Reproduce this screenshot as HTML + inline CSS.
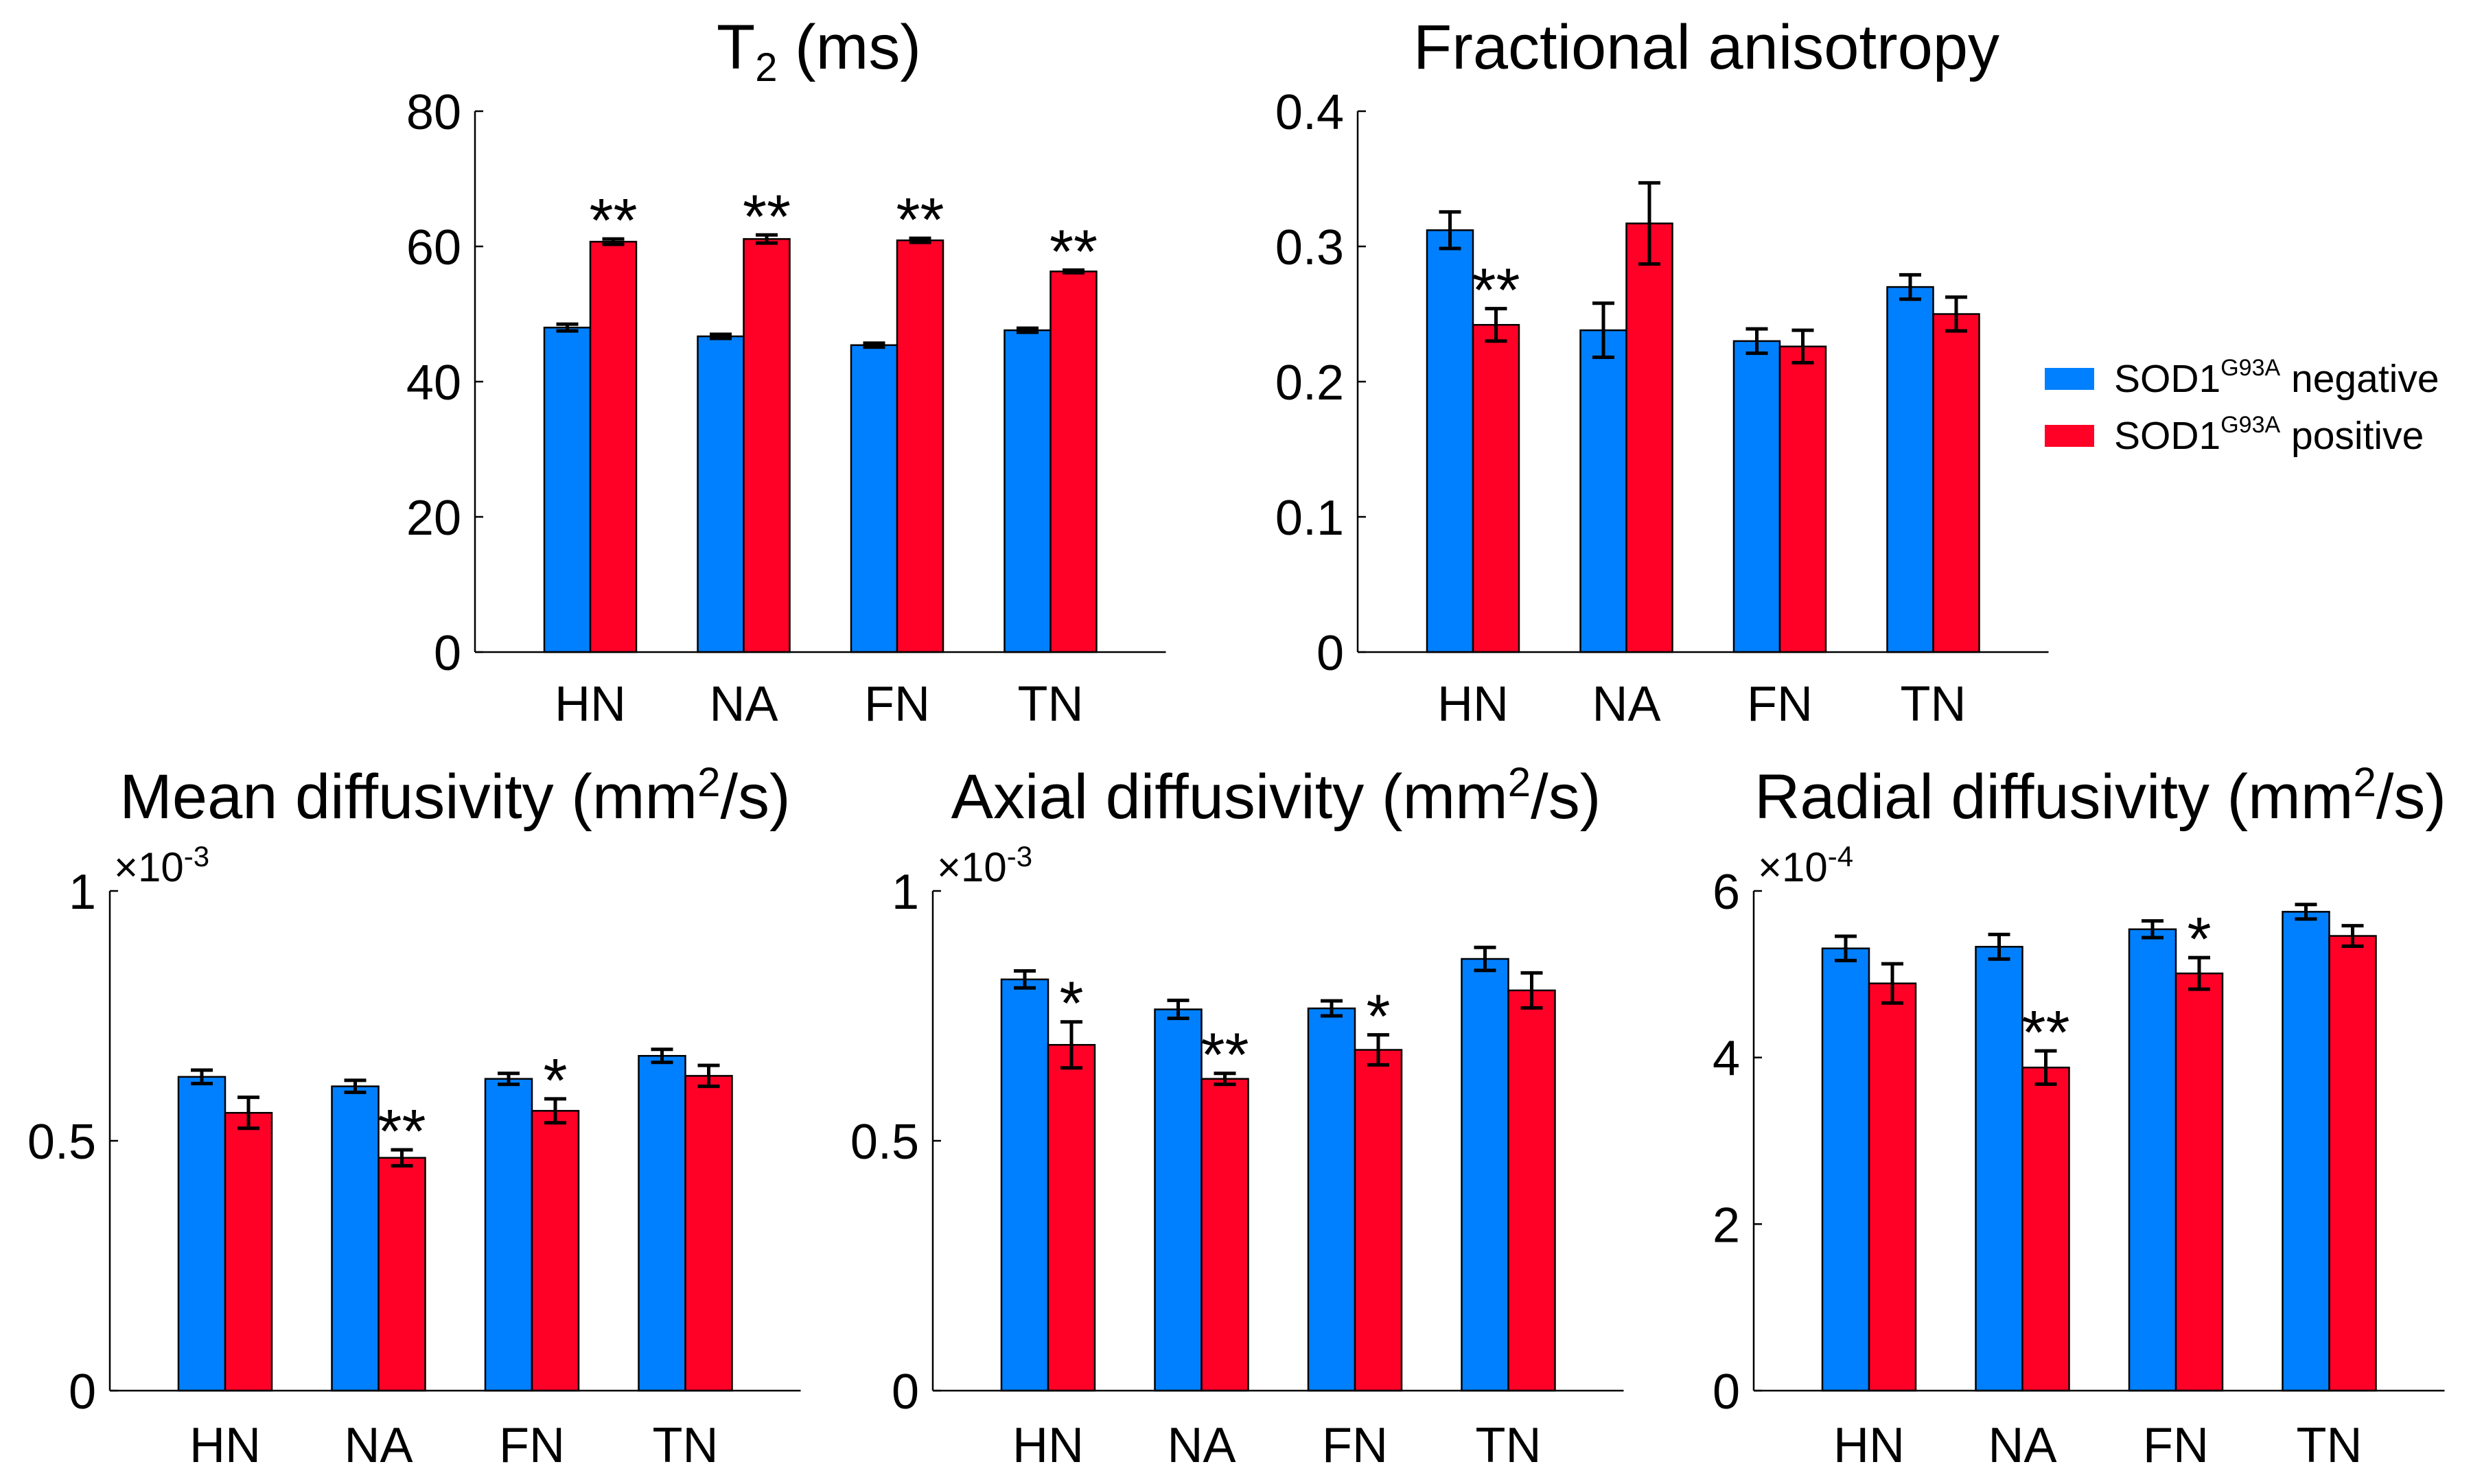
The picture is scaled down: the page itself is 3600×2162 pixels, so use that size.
<!DOCTYPE html>
<html><head><meta charset="utf-8">
<style>
html,body{margin:0;padding:0;background:#fff;}
svg{display:block;font-family:"Liberation Sans",Arial,sans-serif;}
</style></head>
<body>
<svg id="fig" width="3600" height="2162" viewBox="0 0 3600 2162" xmlns="http://www.w3.org/2000/svg">
<g id="legend">
  <rect x="2979" y="536" width="72" height="32" fill="#0080ff"/>
  <text x="3080" y="571" font-size="57">SOD1<tspan font-size="34" dy="-24">G93A</tspan><tspan dy="24"> negative</tspan></text>
  <rect x="2979" y="619" width="72" height="32" fill="#ff0027"/>
  <text x="3080" y="654" font-size="57">SOD1<tspan font-size="34" dy="-24">G93A</tspan><tspan dy="24"> positive</tspan></text>
</g>
</svg>
<script>
const categories = ["HN","NA","FN","TN"];

const t2Neg = [48.0, 46.7, 45.4, 47.6];
const t2Pos = [60.7, 61.1, 60.9, 56.3];
const t2NegErr = [0.5, 0.3, 0.3, 0.3];
const t2PosErr = [0.4, 0.6, 0.3, 0.2];
const t2Stars = ["**","**","**","**"];
const t2Ticks = [0, 20, 40, 60, 80];
const t2TickLabels = ["0","20","40","60","80"];

const faNeg = [0.312, 0.238, 0.230, 0.270];
const faPos = [0.242, 0.317, 0.226, 0.250];
const faNegErr = [0.0135, 0.020, 0.009, 0.009];
const faPosErr = [0.012, 0.030, 0.012, 0.0125];
const faStars = ["**","","",""];
const faTicks = [0, 0.1, 0.2, 0.3, 0.4];
const faTickLabels = ["0","0.1","0.2","0.3","0.4"];

const mdNeg = [0.628, 0.609, 0.624, 0.670];
const mdPos = [0.556, 0.466, 0.560, 0.630];
const mdNegErr = [0.0135, 0.012, 0.011, 0.013];
const mdPosErr = [0.031, 0.016, 0.024, 0.021];
const mdStars = ["","**","*",""];
const mdTicks = [0, 0.5, 1];
const mdTickLabels = ["0","0.5","1"];

const adNeg = [0.823, 0.763, 0.765, 0.864];
const adPos = [0.692, 0.624, 0.682, 0.801];
const adNegErr = [0.017, 0.018, 0.015, 0.023];
const adPosErr = [0.046, 0.011, 0.030, 0.035];
const adStars = ["*","**","*",""];
const adTicks = [0, 0.5, 1];
const adTickLabels = ["0","0.5","1"];

const rdNeg = [5.31, 5.33, 5.54, 5.75];
const rdPos = [4.89, 3.88, 5.01, 5.46];
const rdNegErr = [0.146, 0.148, 0.10, 0.087];
const rdPosErr = [0.235, 0.20, 0.19, 0.123];
const rdStars = ["","**","*",""];
const rdTicks = [0, 2, 4, 6];
const rdTickLabels = ["0","2","4","6"];

const NS = "http://www.w3.org/2000/svg";
const svg = document.getElementById("fig");
function mk(tag, attrs, parent){
  const e = document.createElementNS(NS, tag);
  for (const k in attrs) e.setAttribute(k, attrs[k]);
  (parent||svg).appendChild(e);
  return e;
}

function drawChart(cfg){
  const g = mk("g", {});
  
  
  const yMax = cfg.ticks[cfg.ticks.length-1];
  const yScale = v => cfg.yBot - (v / yMax) * (cfg.yBot - cfg.yTop);
  const xCenter = i => cfg.x0 + 168 + 223.5 * i;
  const bw = cfg.bw;

  const t = mk("text", {x: cfg.titleX, y: cfg.titleY, "font-size": 92, "text-anchor": "middle"}, g);
  
  
  t.innerHTML = cfg.titleHTML;

  if (cfg.exp) {
    const ex = mk("text", {x: cfg.x0 + 6, y: cfg.yTop - 14, "font-size": 60}, g);
    
    
    ex.innerHTML = '×10<tspan font-size="42" dy="-22">' + cfg.exp + '</tspan>';
  }

  categories.forEach((c, i) => {
    const cx = xCenter(i);
    const yn = yScale(cfg.neg[i]), yp = yScale(cfg.pos[i]);
    const bn = mk("rect", {x: cx - bw, y: yn, width: bw, height: cfg.yBot - yn, fill: "#0080ff", stroke: "#000", "stroke-width": 2.5}, g);
    
    
    const bp = mk("rect", {x: cx, y: yp, width: bw, height: cfg.yBot - yp, fill: "#ff0027", stroke: "#000", "stroke-width": 2.5}, g);
    
    
    [[cx - bw/2, cfg.neg[i], cfg.negErr[i], 'negative'], [cx + bw/2, cfg.pos[i], cfg.posErr[i], 'positive']].forEach(([ex, v, e, s]) => {
      const y1 = yScale(v + e), y2 = yScale(v - e);
      const eg = mk("g", {stroke: "#000", "stroke-width": 5}, g);
      
      
      mk("line", {x1: ex, x2: ex, y1: y1, y2: y2}, eg);
      mk("line", {x1: ex - 16, x2: ex + 16, y1: y1, y2: y1}, eg);
      mk("line", {x1: ex - 16, x2: ex + 16, y1: y2, y2: y2}, eg);
    });
    if (cfg.stars[i]) {
      const st = mk("text", {x: cx + bw/2, y: yScale(cfg.pos[i] + cfg.posErr[i]) + 4, "font-size": 90, "text-anchor": "middle"}, g);
      
      
      st.textContent = cfg.stars[i];
    }
    const cl = mk("text", {x: cx, y: cfg.catY, "font-size": 72, "text-anchor": "middle"}, g);
    
    
    cl.textContent = c;
  });

  const ax = mk("g", {stroke: "#000", "stroke-width": 2.5}, g);
  
  
  mk("line", {x1: cfg.x0, x2: cfg.x0, y1: cfg.yTop, y2: cfg.yBot}, ax);
  mk("line", {x1: cfg.x0, x2: cfg.x0 + 168*2 + 223.5*3, y1: cfg.yBot, y2: cfg.yBot}, ax);
  cfg.ticks.forEach((tv, k) => {
    const y = yScale(tv);
    mk("line", {x1: cfg.x0, x2: cfg.x0 + 12, y1: y, y2: y}, ax);
    const tl = mk("text", {x: cfg.x0 - 20, y: y + 26, "font-size": 72, "text-anchor": "end"}, g);
    
    
    tl.textContent = cfg.tickLabels[k];
  });
}

drawChart({name:"t2-chart", x0:692, yTop:162, yBot:950, bw:67, catY:1050, titleX:1193, titleY:100,
  titleHTML:'T<tspan font-size="58" dy="18">2</tspan><tspan dy="-18"> (ms)</tspan>',
  neg:t2Neg, pos:t2Pos, negErr:t2NegErr, posErr:t2PosErr, stars:t2Stars, ticks:t2Ticks, tickLabels:t2TickLabels});
drawChart({name:"fa-chart", x0:1978, yTop:162, yBot:950, bw:67, catY:1050, titleX:2486, titleY:100,
  titleHTML:'Fractional anisotropy',
  neg:faNeg, pos:faPos, negErr:faNegErr, posErr:faPosErr, stars:faStars, ticks:faTicks, tickLabels:faTickLabels});
drawChart({name:"md-chart", x0:160, yTop:1298, yBot:2026, bw:68, catY:2130, titleX:663, titleY:1192, exp:"-3",
  titleHTML:'Mean diffusivity (mm<tspan font-size="60" dy="-32">2</tspan><tspan dy="32">/s)</tspan>',
  neg:mdNeg, pos:mdPos, negErr:mdNegErr, posErr:mdPosErr, stars:mdStars, ticks:mdTicks, tickLabels:mdTickLabels});
drawChart({name:"ad-chart", x0:1359, yTop:1298, yBot:2026, bw:68, catY:2130, titleX:1859, titleY:1192, exp:"-3",
  titleHTML:'Axial diffusivity (mm<tspan font-size="60" dy="-32">2</tspan><tspan dy="32">/s)</tspan>',
  neg:adNeg, pos:adPos, negErr:adNegErr, posErr:adPosErr, stars:adStars, ticks:adTicks, tickLabels:adTickLabels});
drawChart({name:"rd-chart", x0:2555, yTop:1298, yBot:2026, bw:68, catY:2130, titleX:3060, titleY:1192, exp:"-4",
  titleHTML:'Radial diffusivity (mm<tspan font-size="60" dy="-32">2</tspan><tspan dy="32">/s)</tspan>',
  neg:rdNeg, pos:rdPos, negErr:rdNegErr, posErr:rdPosErr, stars:rdStars, ticks:rdTicks, tickLabels:rdTickLabels});
</script>
</body></html>
